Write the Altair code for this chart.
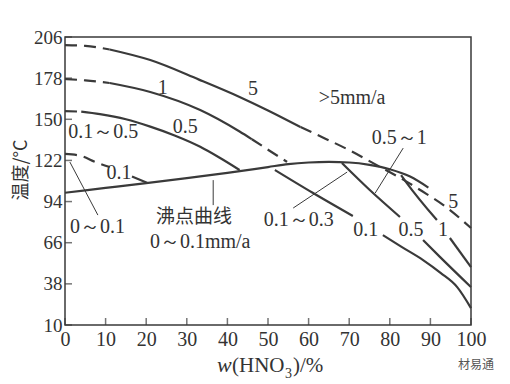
import altair as alt
import pandas as pd

# ---------------- data ----------------
# iso-corrosion curve "5" (mm/a)
c5_a_x = [0, 5, 11]
c5_a_t = [200.5, 200, 197.5]
c5_b_x = [11, 21, 33, 43, 50, 58]
c5_b_t = [197.5, 190.3, 177, 165.2, 156, 144.7]
c5_c_x = [58, 64, 70, 76, 82, 88, 94, 100]
c5_c_t = [144.7, 137, 129, 120, 111, 101, 90, 76]
# curve "1"
c1_a_x = [0, 5, 11]
c1_a_t = [177.4, 176.5, 174.7]
c1_b_x = [11, 21, 33.3, 43, 46]
c1_b_t = [174.7, 168.6, 156.3, 141.7, 136.5]
c1_c_x = [46, 50, 54.7]
c1_c_t = [136.5, 129.3, 121]
c1_d_x = [82.8, 84.2, 91.6]
c1_d_t = [112, 106.6, 81.4]
c1_e_x = [94.8, 100]
c1_e_t = [69.2, 49.4]
# curve "0.5"
c05_a_x = [0, 4]
c05_a_t = [155.6, 155.2]
c05_b_x = [4, 8.6, 15, 21, 27, 33.3, 38, 43]
c05_b_t = [155.2, 153.5, 150, 145, 139, 131.3, 124, 115.5]
c05_c_x = [68.2, 75, 82.5]
c05_c_t = [120.2, 102, 83.5]
c05_d_x = [88.2, 92.4, 100]
c05_d_t = [67.8, 56.2, 35.8]
# curve "0.1"
c01_a_x = [0, 4, 7.4, 11]
c01_a_t = [126.4, 125, 121, 117.5]
c01_b_x = [16.5, 20.2]
c01_b_t = [111, 106.8]
c01_c_x = [51.7, 61, 70.9]
c01_c_t = [115.5, 100, 84.2]
c01_d_x = [78.3, 83, 88.2, 92.5, 96.6, 100]
c01_d_t = [71.2, 63, 54.2, 45.5, 35.8, 21.5]
# boiling-point curve
boil_x = [0, 10, 20, 30, 40, 50, 55, 60, 65, 70, 75, 80, 85, 89.5]
boil_t = [100, 103.3, 106.6, 110, 113.5, 117.5, 119.5, 120.6, 121, 120.6, 119, 116, 111, 103.5]

# leader lines (x, t, x2, t2)
lead_x = [1.2, 36.5, 56.2, 83.3]
lead_t = [120.9, 108.6, 89.6, 130.4]
lead_x2 = [8.1, 36.5, 69.5, 76.4]
lead_t2 = [84.8, 91.6, 114.1, 99.8]

# curve labels
lab_text = ["5", ">5mm/a", "1", "0.5", "0.1～0.5", "0.1", "0.5～1", "5",
            "0.1～0.3", "0.1", "0.5", "1", "0～0.1", "0～0.1mm/a"]
lab_x = [46.3, 70.7, 24.1, 29.6, 9.4, 13.3, 82.3, 95.6, 57.6, 74.1, 85.2, 93.1, 8, 33.3]
lab_t = [170.8, 164.5, 171.3, 144.7, 141.3, 113.5, 137, 93.7, 81.4, 74.6, 74.6, 74.6, 76.7, 66.5]
cn_text = ["沸点曲线"]
cn_x = [31.8]
cn_t = [83.5]

# axes
x_ticks = [0, 10, 20, 30, 40, 50, 60, 70, 80, 90, 100]
y_ticks = [10, 38, 66, 94, 122, 150, 178, 206]

# ---------------- build ----------------
W, H = 406, 288
INK = "#3a3a3a"
SERIF = "Liberation Serif"
CJK = "Noto Sans CJK SC"

segs = [
    ("5a", "dash", c5_a_x, c5_a_t), ("5b", "solid", c5_b_x, c5_b_t), ("5c", "dash", c5_c_x, c5_c_t),
    ("1a", "dash", c1_a_x, c1_a_t), ("1b", "solid", c1_b_x, c1_b_t), ("1c", "dash", c1_c_x, c1_c_t),
    ("1d", "solid", c1_d_x, c1_d_t), ("1e", "solid", c1_e_x, c1_e_t),
    ("05a", "dash", c05_a_x, c05_a_t), ("05b", "solid", c05_b_x, c05_b_t),
    ("05c", "solid", c05_c_x, c05_c_t), ("05d", "solid", c05_d_x, c05_d_t),
    ("01a", "dash", c01_a_x, c01_a_t), ("01b", "solid", c01_b_x, c01_b_t),
    ("01c", "solid", c01_c_x, c01_c_t), ("01d", "solid", c01_d_x, c01_d_t),
    ("boil", "solid", boil_x, boil_t),
]
rows = []
for name, style, xs_, ts_ in segs:
    for xv, tv in zip(xs_, ts_):
        rows.append({"seg": name, "style": style, "x": xv, "t": tv})
df = pd.DataFrame(rows)

xs = alt.Scale(domain=[0, 100], nice=False, zero=False)
ys = alt.Scale(domain=[10, 206], nice=False, zero=False)

xax = alt.Axis(values=x_ticks, grid=False, ticks=False, domain=False, title=None,
               labelFont=SERIF, labelFontSize=20, labelColor="#333", labelPadding=4,
               labelFlush=False)
yax = alt.Axis(values=y_ticks, grid=False, ticks=False, domain=False, title=None,
               labelFont=SERIF, labelFontSize=19, labelColor="#333", labelPadding=3)

base = alt.Chart(df)
solid = base.transform_filter(alt.datum.style == "solid").mark_line(
    color=INK, strokeWidth=2.2, interpolate="monotone").encode(
    x=alt.X("x:Q", scale=xs, axis=xax), y=alt.Y("t:Q", scale=ys, axis=yax), detail="seg:N")
dashed = base.transform_filter(alt.datum.style == "dash").mark_line(
    color=INK, strokeWidth=2.2, strokeDash=[12, 7], interpolate="monotone").encode(
    x=alt.X("x:Q", scale=xs), y=alt.Y("t:Q", scale=ys), detail="seg:N")

leads = alt.Chart(pd.DataFrame({"x": lead_x, "t": lead_t, "x2": lead_x2, "t2": lead_t2})).mark_rule(
    color=INK, strokeWidth=1).encode(
    x=alt.X("x:Q", scale=xs), y=alt.Y("t:Q", scale=ys), x2="x2:Q", y2="t2:Q")

labels = alt.Chart(pd.DataFrame({"x": lab_x, "t": lab_t, "s": lab_text})).mark_text(
    font=SERIF, fontSize=20, color="#333", align="center", baseline="middle").encode(
    x=alt.X("x:Q", scale=xs), y=alt.Y("t:Q", scale=ys), text="s:N")
cn_labels = alt.Chart(pd.DataFrame({"x": cn_x, "t": cn_t, "s": cn_text})).mark_text(
    font=CJK, fontSize=19, color="#333", align="center", baseline="middle").encode(
    x=alt.X("x:Q", scale=xs), y=alt.Y("t:Q", scale=ys), text="s:N")

xt = alt.Chart(pd.DataFrame({"v": x_ticks})).mark_tick(
    orient="vertical", color=INK, thickness=1.5, size=7).encode(
    x=alt.X("v:Q", scale=xs), y=alt.value(H - 3.5))
yt = alt.Chart(pd.DataFrame({"v": y_ticks})).mark_tick(
    orient="horizontal", color=INK, thickness=1.5, size=7).encode(
    y=alt.Y("v:Q", scale=ys), x=alt.value(3.5))

one = pd.DataFrame({"a": [0]})
ytitle = alt.Chart(one).mark_text(font=CJK, fontSize=18, color="#333", angle=270,
                                  align="center", baseline="middle", text="温度/°C").encode(
    x=alt.value(-43), y=alt.value(133))
xt_w = alt.Chart(one).mark_text(font=SERIF, fontSize=22, fontStyle="italic", color="#333",
                                align="left", baseline="alphabetic", text="w").encode(
    x=alt.value(152), y=alt.value(335))
xt_1 = alt.Chart(one).mark_text(font=SERIF, fontSize=21, color="#333",
                                align="left", baseline="alphabetic", text="(HNO").encode(
    x=alt.value(167), y=alt.value(335))
xt_2 = alt.Chart(one).mark_text(font=SERIF, fontSize=14, color="#333",
                                align="left", baseline="alphabetic", text="3").encode(
    x=alt.value(220), y=alt.value(341))
xt_3 = alt.Chart(one).mark_text(font=SERIF, fontSize=21, color="#333",
                                align="left", baseline="alphabetic", text=")/%").encode(
    x=alt.value(228), y=alt.value(335))
wm = alt.Chart(one).mark_text(font=CJK, fontSize=12, color="#555",
                              align="left", baseline="middle", text="材易通").encode(
    x=alt.value(393), y=alt.value(328))

chart = alt.layer(solid, dashed, leads, labels, cn_labels, xt, yt,
                  ytitle, xt_w, xt_1, xt_2, xt_3, wm).properties(
    width=W, height=H,
    autosize=alt.AutoSizeParams(type="none"),
    padding={"left": 57, "top": 29, "right": 30, "bottom": 58},
    background="white",
).configure_view(stroke=INK, strokeWidth=1.5)

chart.save("out.html", embed_options={"renderer": "svg", "actions": False})
